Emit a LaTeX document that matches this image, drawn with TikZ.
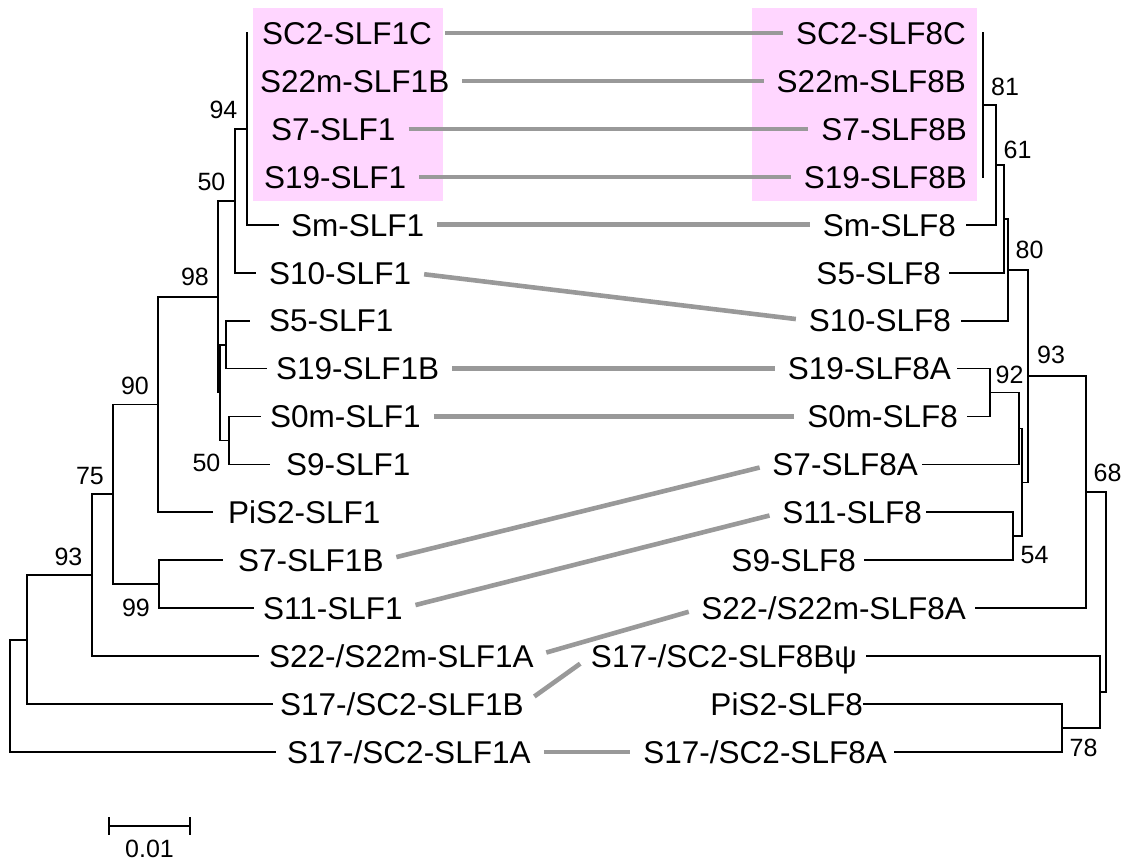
\documentclass[tikz,border=0pt]{standalone}
\usepackage{fontspec}
\setmainfont{Liberation Sans}
\definecolor{pinkbg}{RGB}{255,214,255}
\definecolor{conngray}{RGB}{153,153,153}
\tikzset{
  br/.style={line width=1.8pt, black, line cap=rect},
  conn/.style={line width=4.6pt, conngray, shorten <=13pt, shorten >=13pt},
  leafL/.style={anchor=west, inner sep=0pt, font=\fontsize{31.5}{36}\selectfont, text height=22.6pt, text depth=0pt},
  leafR/.style={anchor=east, inner sep=0pt, font=\fontsize{31.5}{36}\selectfont, text height=22.6pt, text depth=0pt},
  bs/.style={inner sep=0pt, font=\fontsize{25}{29}\selectfont},
  pinkbox/.style={fill=pinkbg, draw=none}
}
\begin{document}
\begin{tikzpicture}[x=1pt,y=-1pt]
\useasboundingbox (0,0) rectangle (1128,863);
% highlight boxes
\fill[pinkbox] (253,8) rectangle (443,201);
\fill[pinkbox] (752,8) rectangle (977,201);

% ---------- left leaves ----------
\node[leafL] (L0)  at (262,33.0)  {SC2-SLF1C};
\node[leafL] (L1)  at (260,80.9)  {S22m-SLF1B};
\node[leafL] (L2)  at (271,128.9) {S7-SLF1};
\node[leafL] (L3)  at (264,176.8) {S19-SLF1};
\node[leafL] (L4)  at (291,224.7) {Sm-SLF1};
\node[leafL] (L5)  at (269,272.7) {S10-SLF1};
\node[leafL] (L6)  at (269,320.6) {S5-SLF1};
\node[leafL] (L7)  at (276,368.5) {S19-SLF1B};
\node[leafL] (L8)  at (270,416.4) {S0m-SLF1};
\node[leafL] (L9)  at (286,464.4) {S9-SLF1};
\node[leafL] (L10) at (228,512.3) {PiS2-SLF1};
\node[leafL] (L11) at (238,560.2) {S7-SLF1B};
\node[leafL] (L12) at (263,608.2) {S11-SLF1};
\node[leafL] (L13) at (269,656.1) {S22-/S22m-SLF1A};
\node[leafL] (L14) at (280,704.0) {S17-/SC2-SLF1B};
\node[leafL] (L15) at (287,752.0) {S17-/SC2-SLF1A};

% ---------- right leaves ----------
\node[leafR] (R0)  at (966,33.0)  {SC2-SLF8C};
\node[leafR] (R1)  at (966,80.9)  {S22m-SLF8B};
\node[leafR] (R2)  at (967,128.9) {S7-SLF8B};
\node[leafR] (R3)  at (967,176.8) {S19-SLF8B};
\node[leafR] (R4)  at (956,224.7) {Sm-SLF8};
\node[leafR] (R5)  at (941,272.7) {S5-SLF8};
\node[leafR] (R6)  at (951,320.6) {S10-SLF8};
\node[leafR] (R7)  at (951,368.5) {S19-SLF8A};
\node[leafR] (R8)  at (958,416.4) {S0m-SLF8};
\node[leafR] (R9)  at (918,464.4) {S7-SLF8A};
\node[leafR] (R10) at (922,512.3) {S11-SLF8};
\node[leafR] (R11) at (856,560.2) {S9-SLF8};
\node[leafR] (R12) at (966,608.2) {S22-/S22m-SLF8A};
\node[leafR] (R13) at (857,656.1) {S17-/SC2-SLF8Bψ};
\node[leafR] (R14) at (863,704.0) {PiS2-SLF8};
\node[leafR] (R15) at (887,752.0) {S17-/SC2-SLF8A};

% ---------- gray connectors ----------
\foreach \i in {0,1,2,3,4,7,8,15} {\draw[conn] (L\i.east) -- (R\i.west);}
\draw[conn] (L5.east)  -- (R6.west);
\draw[conn] (L11.east) -- (R9.west);
\draw[conn] (L12.east) -- (R10.west);
\draw[conn] (L13.east) -- (R12.west);
\draw[conn] (L14.east) -- (R13.west);

% ---------- left tree ----------
\coordinate (tL0)  at (247,33.0);
\coordinate (tL4)  at (278,224.7);
\coordinate (tL5)  at (255,272.7);
\coordinate (tL6)  at (249,320.6);
\coordinate (tL7)  at (266,368.5);
\coordinate (tL8)  at (260,416.4);
\coordinate (tL9)  at (269,464.4);
\coordinate (tL10) at (212,512.3);
\coordinate (tL11) at (222,560.2);
\coordinate (tL12) at (253,608.2);
\coordinate (tL13) at (258,656.1);
\coordinate (tL14) at (272,704.0);
\coordinate (tL15) at (275,752.0);
\coordinate (n94)  at (247,128.9);
\coordinate (n50a) at (235,200.8);
\coordinate (nI)   at (226,344.6);
\coordinate (n50b) at (229,440.4);
\coordinate (nH)   at (220,392.5);
\coordinate (n98)  at (218,296.7);
\coordinate (n90)  at (158,404.5);
\coordinate (n99)  at (159,584.2);
\coordinate (n75)  at (113,494.3);
\coordinate (n93)  at (92,575.2);
\coordinate (nX)   at (27,639.6);
\coordinate (nRL)  at (10,695.8);

\draw[br] (tL0) -- (n94) |- (tL4);
\draw[br] (n94) -| (n50a) |- (tL5);
\draw[br] (tL6) -| (nI) |- (tL7);
\draw[br] (tL8) -| (n50b) |- (tL9);
\draw[br] (nI) -| (nH) |- (n50b);
\draw[br] (n50a) -| (n98) |- (nH);
\draw[br] (n98) -| (n90) |- (tL10);
\draw[br] (tL11) -| (n99) |- (tL12);
\draw[br] (n90) -| (n75) |- (n99);
\draw[br] (n75) -| (n93) |- (tL13);
\draw[br] (n93) -| (nX) |- (tL14);
\draw[br] (nX) -| (nRL) |- (tL15);

% ---------- right tree ----------
\coordinate (tR0)  at (983,33.0);
\coordinate (tR3)  at (983,176.8);
\coordinate (tR4)  at (967,224.7);
\coordinate (tR5)  at (950,272.7);
\coordinate (tR6)  at (962,320.6);
\coordinate (tR7)  at (958,368.5);
\coordinate (tR8)  at (968,416.4);
\coordinate (tR9)  at (923,464.4);
\coordinate (tR10) at (927,512.3);
\coordinate (tR11) at (865,560.2);
\coordinate (tR12) at (976,608.2);
\coordinate (tR13) at (867,656.1);
\coordinate (tR14) at (864,704.0);
\coordinate (tR15) at (895,752.0);
\coordinate (m81)  at (983,104.9);
\coordinate (m61)  at (996,164.8);
\coordinate (mA)   at (1004,218.7);
\coordinate (m80)  at (1008,269.7);
\coordinate (m92)  at (990,392.5);
\coordinate (mE)   at (1019,428.4);
\coordinate (m54)  at (1013,536.3);
\coordinate (mF)   at (1022,482.4);
\coordinate (m93)  at (1028,376.0);
\coordinate (m68)  at (1086,492.1);
\coordinate (m78)  at (1062,728.0);
\coordinate (mJ)   at (1100,692.0);
\coordinate (mRR)  at (1106,592.1);

\draw[br] (tR0) -- (tR3);
\draw[br] (m81) -| (m61) |- (tR4);
\draw[br] (m61) -| (mA) |- (tR5);
\draw[br] (mA) -| (m80) |- (tR6);
\draw[br] (tR7) -| (m92) |- (tR8);
\draw[br] (m92) -| (mE) |- (tR9);
\draw[br] (tR10) -| (m54) |- (tR11);
\draw[br] (mE) -| (mF) |- (m54);
\draw[br] (m80) -| (m93) |- (mF);
\draw[br] (m93) -| (m68) |- (tR12);
\draw[br] (tR14) -| (m78) |- (tR15);
\draw[br] (tR13) -| (mJ) |- (m78);
\draw[br] (m68) -| (mRR) |- (mJ);

% ---------- bootstrap values ----------
\node[bs] (b94)  at (223.5,110) {94};
\node[bs] (b50a) at (211.5,182) {50};
\node[bs] (b98)  at (195,277) {98};
\node[bs] (b90)  at (135,386) {90};
\node[bs] (b75)  at (90,476) {75};
\node[bs] (b93)  at (68.5,557) {93};
\node[bs] (b99)  at (136,608) {99};
\node[bs] (b50b) at (206.5,463) {50};
\node[bs] (b81)  at (1005,87) {81};
\node[bs] (b61)  at (1017.5,150) {61};
\node[bs] (b80)  at (1029.5,250) {80};
\node[bs] (b93r) at (1051,355) {93};
\node[bs] (b92)  at (1009.5,375) {92};
\node[bs] (b54)  at (1034.5,555) {54};
\node[bs] (b68)  at (1107.5,473) {68};
\node[bs] (b78)  at (1083.5,748) {78};

% ---------- scale bar ----------
\coordinate (sb1) at (109,826);
\coordinate (sb2) at (190,826);
\draw[line width=1.8pt] (sb1) -- (sb2);
\draw[line width=1.8pt] ([yshift=9pt]sb1) -- ([yshift=-9pt]sb1);
\draw[line width=1.8pt] ([yshift=9pt]sb2) -- ([yshift=-9pt]sb2);
\node[bs] (sbl) at (149.5,849) {0.01};
\end{tikzpicture}
\end{document}
